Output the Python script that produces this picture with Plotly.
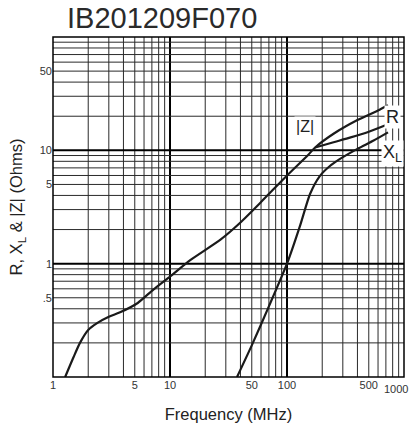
import plotly.graph_objects as go

# ---- data ----
z_freq = [1.27, 1.5, 1.7, 2.0, 2.4, 3.0, 3.7, 5.3, 7.2, 10, 15, 27, 40, 60, 100, 150, 174, 250, 400, 600, 730]
z_vals = [0.10, 0.15, 0.20, 0.26, 0.30, 0.34, 0.37, 0.45, 0.59, 0.77, 1.08, 1.63, 2.31, 3.5, 6.0, 9.0, 10.6, 14.0, 18.5, 22.5, 25.0]

r_freq = [174, 250, 350, 500, 730]
r_vals = [10.6, 11.8, 13.0, 14.6, 17.0]

xl_freq = [37.4, 50, 70, 100, 130, 157, 190, 230, 284, 400, 550, 730]
xl_vals = [0.10, 0.19, 0.42, 1.0, 2.2, 4.1, 5.9, 7.2, 8.4, 10.3, 12.2, 14.4]

x_tick_vals = [1, 5, 10, 50, 100, 500]
x_tick_text = ["1", "5", "10", "50", "100", "500"]
x_last_tick = 1000
x_last_text = "1000"
y_tick_vals = [0.5, 1, 5, 10, 50]
y_tick_text = [".5", "1", "5", "10", "50"]

x_decades = [1, 10, 100]
y_decades = [0.1, 1, 10]

FONT = "Liberation Sans, Arial, sans-serif"

fig = go.Figure()
line_style = dict(color="#1a1a1a", width=2.2, shape="spline", smoothing=0.6)
fig.add_trace(go.Scatter(x=z_freq, y=z_vals, mode="lines", line=line_style, name="|Z|"))
fig.add_trace(go.Scatter(x=r_freq, y=r_vals, mode="lines", line=line_style, name="R"))
fig.add_trace(go.Scatter(x=xl_freq, y=xl_vals, mode="lines", line=line_style, name="X_L"))

shapes = []
# vertical grid
for d in x_decades:
    for m in range(2, 10):
        shapes.append(dict(type="line", xref="x", yref="paper", x0=d * m, x1=d * m, y0=0, y1=1,
                           line=dict(color="#2a2a2a", width=1), layer="below"))
for d in [10, 100]:
    shapes.append(dict(type="line", xref="x", yref="paper", x0=d, x1=d, y0=0, y1=1,
                       line=dict(color="#000", width=2), layer="below"))
# horizontal grid
for d in y_decades:
    for m in range(2, 10):
        shapes.append(dict(type="line", xref="paper", yref="y", x0=0, x1=1, y0=d * m, y1=d * m,
                           line=dict(color="#2a2a2a", width=1), layer="below"))
for d in [1, 10]:
    shapes.append(dict(type="line", xref="paper", yref="y", x0=0, x1=1, y0=d, y1=d,
                       line=dict(color="#000", width=2), layer="below"))
# frame
shapes.append(dict(type="rect", xref="paper", yref="paper", x0=0, x1=1, y0=0, y1=1,
                   line=dict(color="#000", width=1.5), layer="above"))

import math
annotations = [
    dict(text="IB201209F070", xref="paper", yref="paper", x=0.0, y=1.0, xanchor="left", yanchor="bottom",
         xshift=12, yshift=1, showarrow=False, font=dict(size=29, color="#2a2a2a", family=FONT)),
    dict(text="|Z|", x=2.154, y=1.212, xref="x", yref="y", showarrow=False, bgcolor="white",
         font=dict(size=16, color="#222", family=FONT)),
    dict(text="R", x=2.9, y=1.29, xref="x", yref="y", showarrow=False, bgcolor="white",
         font=dict(size=18, color="#222", family=FONT)),
    dict(text="X<sub>L</sub>", x=2.9, y=0.97, xref="x", yref="y", showarrow=False, bgcolor="white",
         font=dict(size=18, color="#222", family=FONT)),
    # last x tick label, kept inside the page like the reference
    dict(text=x_last_text, x=math.log10(x_last_tick), xref="x", yref="paper", y=0, yanchor="top",
         xanchor="right", xshift=6, yshift=-4, showarrow=False,
         font=dict(size=11, color="#333", family=FONT)),
]

fig.update_layout(
    width=410, height=431,
    margin=dict(l=53, r=6, t=37, b=54, autoexpand=False),
    paper_bgcolor="white", plot_bgcolor="white",
    showlegend=False,
    shapes=shapes,
    annotations=annotations,
    font=dict(family=FONT, color="#333"),
    xaxis=dict(type="log", range=[0, 3], tickvals=x_tick_vals, ticktext=x_tick_text,
               showgrid=False, zeroline=False, showline=False, ticks="",
               automargin=False,
               tickfont=dict(size=11, color="#333"),
               title=dict(text="Frequency (MHz)", font=dict(size=16.5, color="#222"), standoff=18)),
    yaxis=dict(type="log", range=[-1, 2], tickvals=y_tick_vals, ticktext=y_tick_text,
               showgrid=False, zeroline=False, showline=False, ticks="",
               automargin=False,
               tickfont=dict(size=11, color="#333"),
               title=dict(text="R, X<sub>L</sub> &amp; |Z| (Ohms)", font=dict(size=16.5, color="#222"), standoff=12)),
)

fig.write_html("out.html")
